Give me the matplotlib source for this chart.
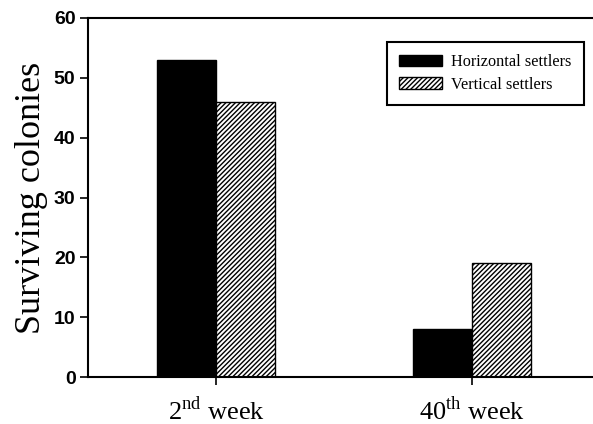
import matplotlib
matplotlib.use('Agg')
import matplotlib.pyplot as plt
import numpy as np

plt.rcParams['hatch.linewidth'] = 1.0
plt.rcParams['mathtext.fontset'] = 'custom'
plt.rcParams['mathtext.rm'] = 'Liberation Serif'

# data
weeks = ['2$^{\\rm nd}$ week', '40$^{\\rm th}$ week']
horizontal = [53, 8]
vertical = [46, 19]
yticks = [0, 10, 20, 30, 40, 50, 60]

fig = plt.figure(figsize=(5.93, 4.24), dpi=100)
ax = fig.add_axes([88 / 593, 1 - 377 / 424, 512 / 593, 359 / 424])

x = np.arange(len(weeks))
w = 0.232
ax.bar(x - w / 2, horizontal, w, color='black', edgecolor='black',
       linewidth=1, label='Horizontal settlers')
ax.bar(x + w / 2, vertical, w, color='white', edgecolor='black',
       hatch='///////', linewidth=1, label='Vertical settlers')

ax.set_xlim(-0.5, 1.5)
ax.set_ylim(0, 60)
ax.set_xticks(x)
ax.set_xticklabels(weeks, family='Liberation Serif', fontsize=19)
ax.set_yticks(yticks)
ax.set_yticklabels([str(v) for v in yticks], family='Liberation Sans',
                   fontweight='bold', fontsize=14)
ax.tick_params(axis='both', direction='out', length=6, width=1.2)
ax.tick_params(axis='x', pad=8)
ax.tick_params(axis='y', pad=3)
ax.set_ylabel('Surviving colonies', family='Liberation Serif', fontsize=26,
              labelpad=4)
for s in ax.spines.values():
    s.set_linewidth(1.5)

leg = ax.legend(loc='upper right', bbox_to_anchor=(496 / 512, 1 - 24 / 359),
                borderaxespad=0,
                prop={'family': 'Liberation Serif', 'size': 11.7},
                fancybox=False, edgecolor='black', framealpha=1,
                handlelength=2.6, handleheight=0.75, borderpad=0.75,
                labelspacing=0.4, handletextpad=0.6)
leg.get_frame().set_linewidth(1.5)

fig.savefig('out.png', dpi=100)
